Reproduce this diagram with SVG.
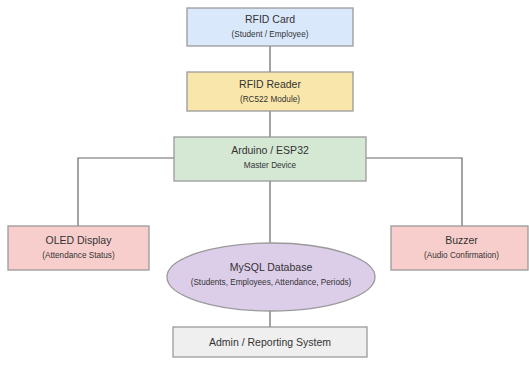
<svg xmlns="http://www.w3.org/2000/svg" width="529" height="367" viewBox="0 0 529 367">
<style>
.box{stroke:#9a9a9a;stroke-width:1.3}
.t{font-family:"Liberation Sans",Arial,sans-serif;font-size:10.5px;fill:#333;text-anchor:middle}
.s{font-family:"Liberation Sans",Arial,sans-serif;font-size:8.2px;fill:#333;text-anchor:middle}
.c{stroke:#666;stroke-width:1.2;fill:none}
</style>
<rect width="529" height="367" fill="#fff"/>
<g id="connectors">
<line class="c" x1="270" y1="46" x2="270" y2="72"/>
<line class="c" x1="270" y1="111" x2="270" y2="137"/>
<polyline class="c" points="174,158 78,158 78,226"/>
<polyline class="c" points="366,158 462,158 462,226"/>
<line class="c" x1="270" y1="181" x2="270" y2="243"/>
<line class="c" x1="270" y1="311" x2="270" y2="327"/>
</g>
<g id="rfid-card">
<rect class="box" x="187" y="8" width="166" height="38" fill="#dae8fc"/>
<text class="t" x="270" y="23">RFID Card</text>
<text class="s" x="270" y="37">(Student / Employee)</text>
</g>
<g id="rfid-reader">
<rect class="box" x="187" y="72" width="166" height="39" fill="#f9e6aa"/>
<text class="t" x="270" y="88">RFID Reader</text>
<text class="s" x="270" y="102">(RC522 Module)</text>
</g>
<g id="arduino">
<rect class="box" x="174" y="137" width="192" height="44" fill="#d5e8d4"/>
<text class="t" x="270" y="154">Arduino / ESP32</text>
<text class="s" x="270" y="168">Master Device</text>
</g>
<g id="oled">
<rect class="box" x="8" y="226" width="141" height="44" fill="#f8cecc"/>
<text class="t" x="78.5" y="244">OLED Display</text>
<text class="s" x="78.5" y="258">(Attendance Status)</text>
</g>
<g id="buzzer">
<rect class="box" x="391" y="226" width="137" height="44" fill="#f8cecc"/>
<text class="t" x="461.5" y="244">Buzzer</text>
<text class="s" x="461.5" y="258">(Audio Confirmation)</text>
</g>
<g id="mysql">
<ellipse class="box" cx="271" cy="277" rx="104" ry="34" fill="#dccde9"/>
<text class="t" x="271" y="271">MySQL Database</text>
<text class="s" x="271" y="285">(Students, Employees, Attendance, Periods)</text>
</g>
<g id="admin">
<rect class="box" x="173" y="327" width="194" height="30" fill="#efefef"/>
<text class="t" x="270" y="346">Admin / Reporting System</text>
</g>
</svg>
